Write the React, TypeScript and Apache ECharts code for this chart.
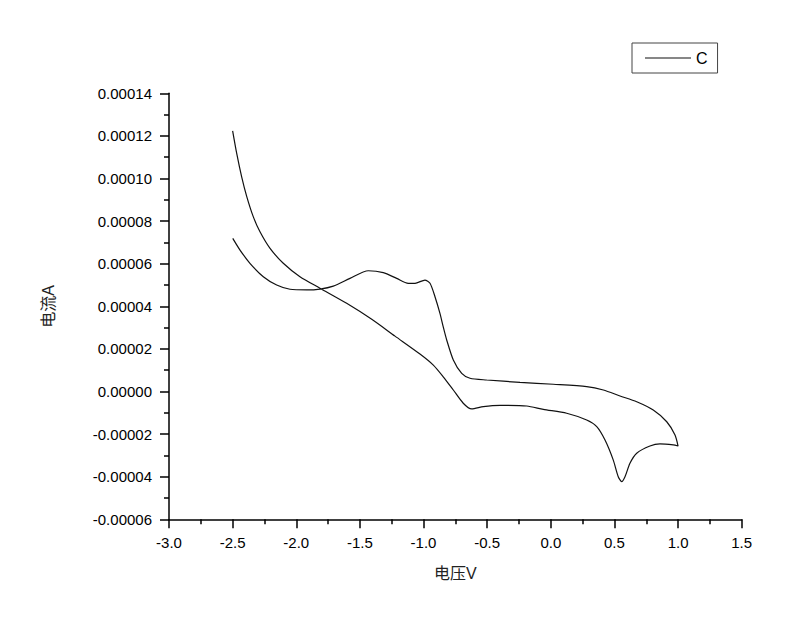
import React, { useEffect, useRef } from "react";
import * as echarts from "echarts";

// Cyclic voltammogram, series "C": voltage (V) and current (A), in scan order
const voltage: number[] = [
  -2.5, -2.468, -2.429, -2.389, -2.338, -2.285, -2.206, -2.102, -1.971, -1.814,
  -1.604, -1.407, -1.224, -1.028, -0.923, -0.845, -0.766, -0.688, -0.622, -0.53,
  -0.399, -0.189, -0.059, 0.125, 0.282, 0.361, 0.426, 0.491, 0.53, 0.557,
  0.583, 0.622, 0.675, 0.779, 0.858, 0.962, 1.0, 0.976, 0.911, 0.805,
  0.675, 0.544, 0.413, 0.282, 0.02, -0.242, -0.504, -0.635, -0.7, -0.766,
  -0.818, -0.845, -0.871, -0.91, -0.949, -0.989, -1.067, -1.12, -1.211, -1.316,
  -1.434, -1.578, -1.709, -1.814, -1.918, -2.049, -2.154, -2.259, -2.364, -2.442,
  -2.499,
];
const current: number[] = [
  12.24e-5, 11.18e-5, 10.08e-5, 9.15e-5, 8.21e-5, 7.5e-5, 6.72e-5, 6.02e-5, 5.39e-5, 4.85e-5,
  4.14e-5, 3.39e-5, 2.6e-5, 1.76e-5, 1.24e-5, 0.69e-5, 0.07e-5, -0.55e-5, -0.82e-5, -0.71e-5,
  -0.65e-5, -0.68e-5, -0.84e-5, -1.02e-5, -1.34e-5, -1.65e-5, -2.28e-5, -3.22e-5, -4.0e-5, -4.23e-5,
  -4.0e-5, -3.37e-5, -2.9e-5, -2.56e-5, -2.46e-5, -2.51e-5, -2.56e-5, -2.04e-5, -1.42e-5, -0.87e-5,
  -0.48e-5, -0.21e-5, 0.07e-5, 0.23e-5, 0.34e-5, 0.43e-5, 0.54e-5, 0.62e-5, 0.85e-5, 1.48e-5,
  2.42e-5, 3.03e-5, 3.67e-5, 4.45e-5, 5.08e-5, 5.23e-5, 5.08e-5, 5.08e-5, 5.31e-5, 5.58e-5,
  5.67e-5, 5.31e-5, 4.95e-5, 4.81e-5, 4.77e-5, 4.8e-5, 5.0e-5, 5.39e-5, 6.02e-5, 6.64e-5,
  7.19e-5,
];
const seriesName = "C";
const xAxisName = "电压V";
const yAxisName = "电流A";

const FONT = "'Liberation Sans', Arial, 'Noto Sans CJK SC', sans-serif";

export default function App() {
  const ref = useRef<HTMLDivElement>(null);
  useEffect(() => {
    if (!ref.current) return;
    const chart = echarts.init(ref.current, null, { renderer: "svg" });
    const data = voltage.map((v, i) => [v, current[i]]);
    chart.setOption({
      animation: false,
      backgroundColor: "#ffffff",
      textStyle: { fontFamily: FONT },
      grid: {
        left: 169,
        right: 58.3,
        top: 93.3,
        bottom: 107.7,
        containLabel: false,
        outerBoundsMode: "none",
      },
      legend: {
        left: 632,
        top: 43,
        orient: "horizontal",
        padding: [6, 10, 6, 13],
        borderColor: "#444",
        borderWidth: 1,
        icon: "rect",
        itemWidth: 46,
        itemHeight: 1.2,
        itemGap: 6,
        itemStyle: { color: "#111" },
        textStyle: { fontSize: 16, color: "#000", fontFamily: FONT, lineHeight: 18 },
        data: [seriesName],
      },
      xAxis: {
        type: "value",
        min: -3.0,
        max: 1.5,
        interval: 0.5,
        name: xAxisName,
        nameLocation: "middle",
        nameGap: 46,
        nameTextStyle: { fontSize: 16, color: "#222", fontFamily: FONT },
        axisLine: { show: true, onZero: false, lineStyle: { color: "#000", width: 1.5 } },
        axisTick: { show: true, inside: false, length: 9, lineStyle: { color: "#000", width: 1.5 } },
        minorTick: { show: true, splitNumber: 2, length: 5, lineStyle: { color: "#000", width: 1.5 } },
        splitLine: { show: false },
        axisLabel: {
          margin: 16,
          fontSize: 15,
          color: "#000",
          fontFamily: FONT,
          formatter: (v: number) => v.toFixed(1),
        },
      },
      yAxis: {
        type: "value",
        min: -0.00006,
        max: 0.00014,
        interval: 0.00002,
        name: yAxisName,
        nameLocation: "middle",
        nameGap: 113,
        nameTextStyle: { fontSize: 16, color: "#222", fontFamily: FONT },
        axisLine: { show: true, onZero: false, lineStyle: { color: "#000", width: 1.5 } },
        axisTick: { show: true, inside: false, length: 9, lineStyle: { color: "#000", width: 1.5 } },
        minorTick: { show: true, splitNumber: 2, length: 5, lineStyle: { color: "#000", width: 1.5 } },
        splitLine: { show: false },
        axisLabel: {
          margin: 17,
          fontSize: 15,
          color: "#000",
          fontFamily: FONT,
          formatter: (v: number) => {
            const s = v.toFixed(5);
            return s === "-0.00000" ? "0.00000" : s;
          },
        },
      },
      series: [
        {
          name: seriesName,
          type: "line",
          data,
          symbol: "none",
          smooth: 0.25,
          lineStyle: { color: "#111", width: 1.2 },
          itemStyle: { color: "#111" },
        },
      ],
    });
    return () => chart.dispose();
  }, []);
  return (
    <div
      ref={ref}
      style={{ position: "fixed", left: 0, top: 0, width: 800, height: 627 }}
    />
  );
}
